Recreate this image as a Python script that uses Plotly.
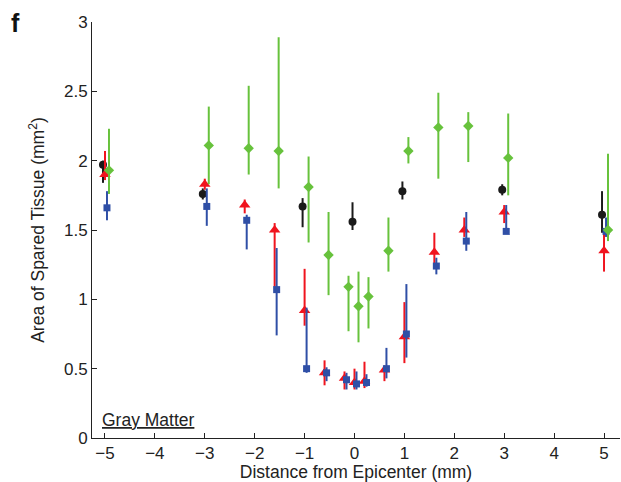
import plotly.graph_objects as go

# Distance from the lesion epicenter (mm) for each sampled section
positions = [-5, -3, -2.2, -1.6, -1, -0.6, -0.2, 0, 0.2, 0.6, 1, 1.6, 2.2, 3, 5]
positions_black = [-5, -3, -1, 0, 1, 3, 5]

# Spared gray-matter area (mm^2): mean, upper and lower bound of each bar
black_mean = [1.97, 1.76, 1.67, 1.56, 1.78, 1.79, 1.61]
black_hi = [2.00, 1.80, 1.73, 1.70, 1.85, 1.83, 1.78]
black_lo = [1.84, 1.72, 1.52, 1.50, 1.72, 1.75, 1.48]

red_mean = [1.90, 1.83, 1.68, 1.50, 0.92, 0.47, 0.43, 0.40, 0.41, 0.49, 0.73, 1.34, 1.50, 1.63, 1.35]
red_hi = [2.07, 1.87, 1.72, 1.55, 1.22, 0.56, 0.48, 0.50, 0.55, 0.51, 0.98, 1.48, 1.59, 1.68, 1.48]
red_lo = [1.86, 1.79, 1.62, 1.09, 0.81, 0.38, 0.35, 0.35, 0.36, 0.41, 0.54, 1.22, 1.45, 1.55, 1.20]

blue_mean = [1.66, 1.67, 1.57, 1.07, 0.50, 0.47, 0.42, 0.39, 0.40, 0.50, 0.75, 1.24, 1.42, 1.49, 1.49]
blue_hi = [1.78, 1.80, 1.61, 1.37, 0.94, 0.51, 0.47, 0.48, 0.46, 0.65, 1.11, 1.30, 1.63, 1.68, 1.59]
blue_lo = [1.57, 1.53, 1.36, 0.74, 0.47, 0.41, 0.35, 0.35, 0.37, 0.43, 0.58, 1.18, 1.35, 1.49, 1.45]

green_mean = [1.93, 2.11, 2.09, 2.07, 1.81, 1.32, 1.09, 0.95, 1.02, 1.35, 2.07, 2.24, 2.25, 2.02, 1.50]
green_hi = [2.23, 2.39, 2.54, 2.89, 2.03, 1.63, 1.17, 1.20, 1.16, 1.59, 2.17, 2.49, 2.35, 2.34, 2.05]
green_lo = [1.76, 1.83, 1.90, 1.80, 1.41, 1.03, 0.77, 0.69, 0.79, 1.20, 1.98, 1.87, 1.99, 1.75, 1.42]

x_ticks = [-5, -4, -3, -2, -1, 0, 1, 2, 3, 4, 5]
x_tick_text = ["\u22125", "\u22124", "\u22123", "\u22122", "\u22121", "0", "1", "2", "3", "4", "5"]
y_ticks = [0, 0.5, 1, 1.5, 2, 2.5, 3]
y_tick_text = ["0", "0.5", "1", "1.5", "2", "2.5", "3"]

FONT = "Liberation Sans, Arial, Helvetica, sans-serif"
FS = 17.5
TICK_FS = 17

# series: (x, mean, hi, lo, x-offset, colour, marker symbol, marker size)
series = [
    (positions_black, black_mean, black_hi, black_lo, -0.04, "#1a1a1a", "circle", 8),
    (positions, red_mean, red_hi, red_lo, 0.0, "#f0141e", "triangle-up", 10),
    (positions, blue_mean, blue_hi, blue_lo, 0.04, "#2f4fa6", "square", 7),
    (positions, green_mean, green_hi, green_lo, 0.08, "#67c23c", "diamond", 8),
]

fig = go.Figure()
for xs, m, hi, lo, off, col, sym, size in series:
    fig.add_trace(go.Scatter(
        x=[x + off for x in xs],
        y=m,
        mode="markers",
        marker=dict(symbol=sym, size=size, color=col, line=dict(width=0)),
        error_y=dict(
            type="data",
            symmetric=False,
            array=[h - v for h, v in zip(hi, m)],
            arrayminus=[v - l for l, v in zip(lo, m)],
            color=col,
            thickness=2,
            width=0,
        ),
        showlegend=False,
    ))

axis_common = dict(
    showline=True, linecolor="#222", linewidth=1,
    ticks="inside", ticklen=5, tickcolor="#222", tickwidth=1,
    showgrid=False, zeroline=False,
    tickfont=dict(family=FONT, size=TICK_FS, color="#222"),
    mirror=False,
)

fig.update_layout(
    width=621, height=482,
    margin=dict(l=92, r=1, t=22, b=44),
    paper_bgcolor="white", plot_bgcolor="white",
    xaxis=dict(
        range=[-5.26, 5.32], tickvals=x_ticks, ticktext=x_tick_text,
        title=dict(text="Distance from Epicenter (mm)", standoff=1,
                   font=dict(family=FONT, size=FS, color="#222")),
        **axis_common,
    ),
    yaxis=dict(
        range=[0, 3], tickvals=y_ticks, ticktext=y_tick_text,
        title=dict(text="Area of Spared Tissue (mm<sup>2</sup>)", standoff=14,
                   font=dict(family=FONT, size=FS, color="#222")),
        **axis_common,
    ),
    annotations=[
        dict(text="<b>f</b>", x=-0.158, y=1.035, xref="paper", yref="paper",
             xanchor="left", yanchor="top", showarrow=False,
             font=dict(family=FONT, size=25, color="#111")),
        dict(text="<u>Gray Matter</u>", x=-5.1, y=0.04, xref="x", yref="y",
             xanchor="left", yanchor="bottom", showarrow=False,
             font=dict(family=FONT, size=FS, color="#222")),
    ],
)

fig.write_html("out.html")
